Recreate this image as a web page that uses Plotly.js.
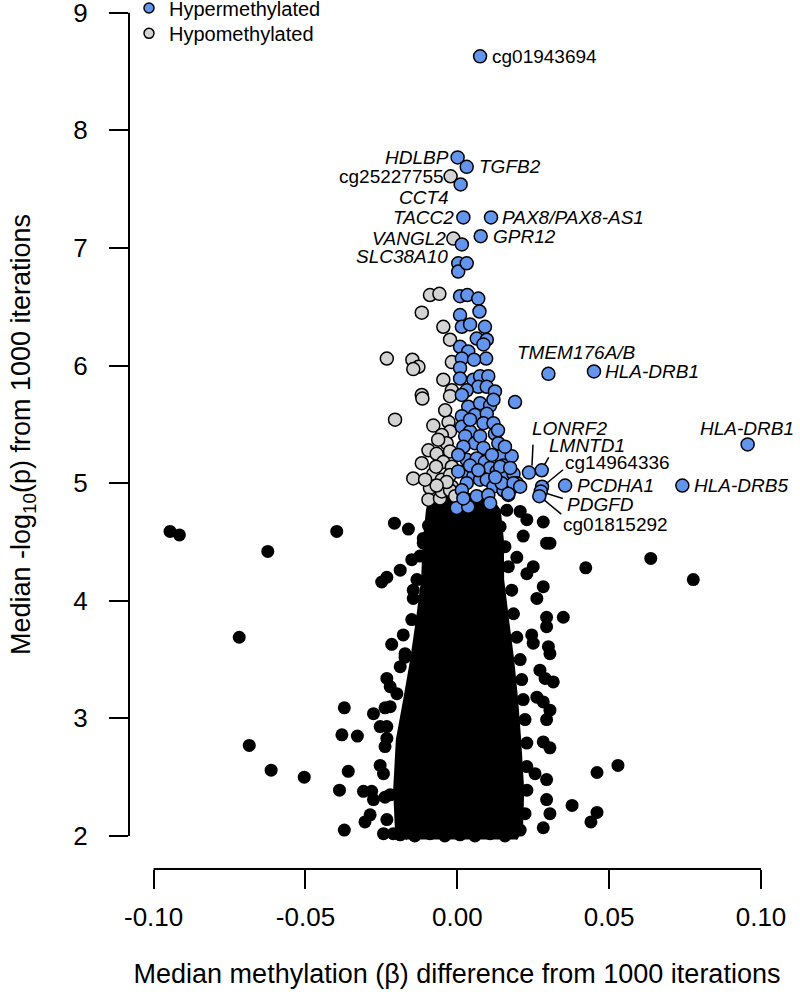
<!DOCTYPE html>
<html>
<head>
<meta charset="utf-8">
<script src="https://cdn.plot.ly/plotly-3.0.1.min.js"></script>
<style>html,body{margin:0;padding:0;background:#fff;}#chart{width:800px;height:995px;}</style>
</head>
<body>
<div id="chart"></div>
<script>
// ---------------- DATA ----------------
// x: median methylation (beta) difference; y: median -log10(p)
// Dense core of non-significant CpGs (outline of the solid black mass)
const coreX = [-0.0166,-0.0202,-0.0208,-0.0199,-0.0175,-0.0152,-0.0133,-0.0116,-0.0110,-0.0100,-0.0090,0.0009,0.0110,0.0140,0.0150,0.0151,0.0167,0.0184,0.0197,0.0207,0.0217,0.0213,0.0194];
const coreY = [1.97,2.05,2.39,2.82,3.16,3.50,3.84,4.18,4.52,4.77,4.88,4.92,4.88,4.77,4.52,4.18,3.84,3.50,3.16,2.82,2.39,2.05,1.97];

// Points forming the bumpy rim of the dense core
const rimX = [-0.0112,-0.0123,-0.0133,-0.0145,-0.0150,-0.0172,-0.0188,-0.0199,-0.0221,-0.0232,-0.0238,-0.0243,-0.0238,-0.0232,-0.0211,
  0.0141,0.0157,0.0168,0.0179,0.0185,0.0196,0.0207,0.0212,0.0217,0.0223,0.0229,0.0229,0.0229,0.0223,0.0207,
  -0.0188,-0.0140,-0.0090,-0.0041,0.0009,0.0058,0.0108,0.0157];
const rimY = [4.53,4.38,4.18,4.09,3.84,3.55,3.44,3.21,3.10,2.93,2.76,2.53,2.33,2.14,2.02,
  4.63,4.46,4.29,4.09,3.89,3.69,3.50,3.33,3.16,2.99,2.79,2.59,2.39,2.19,2.05,
  2.01,2.00,2.02,2.00,2.01,2.00,2.02,2.00];

// Scattered non-significant CpGs outside the core
const otherX = [-0.0946,-0.0915,-0.0397,-0.0624,-0.0207,-0.0161,-0.0095,-0.0112,-0.0150,-0.0188,-0.0232,-0.0249,-0.0145,-0.0718,-0.0178,-0.0216,-0.0172,-0.0232,-0.0221,-0.0372,-0.0276,-0.0238,-0.0254,-0.0380,-0.0329,-0.0232,-0.0685,-0.0613,-0.0504,-0.0359,-0.0254,-0.0388,-0.0309,-0.0282,-0.0276,-0.0221,-0.0287,-0.0304,-0.0372,-0.0243,
  0.0423,0.0637,0.0777,0.0349,0.0305,0.0163,0.0207,0.0229,0.0283,0.0294,0.0217,0.0196,0.0250,0.0229,0.0283,0.0262,0.0294,0.0294,0.0245,0.0250,0.0300,0.0305,0.0272,0.0289,0.0316,0.0262,0.0283,0.0305,0.0294,0.0283,0.0305,0.0256,0.0294,0.0294,0.0305,0.0283,
  0.0529,0.0460,0.0460,0.0440,0.0378];
const otherY = [4.59,4.56,4.59,4.42,4.66,4.61,4.64,4.49,4.35,4.26,4.20,4.16,4.02,3.69,3.71,3.63,3.52,3.34,3.27,3.09,3.04,3.09,2.93,2.86,2.85,2.83,2.77,2.56,2.50,2.55,2.60,2.39,2.38,2.38,2.31,2.35,2.18,2.12,2.05,2.02,
  4.28,4.36,4.18,3.86,4.49,4.77,4.76,4.69,4.67,4.49,4.55,4.37,4.29,4.23,4.12,4.02,3.86,3.78,3.71,3.64,3.61,3.55,3.41,3.34,3.31,3.18,3.14,3.07,2.99,2.80,2.75,2.53,2.48,2.31,2.19,2.07,
  2.60,2.54,2.20,2.12,2.26];

// Hypomethylated (grey), unlabelled
const hypoX = [-0.0090,-0.0059,-0.0117,-0.0046,-0.0024,-0.0232,-0.0148,-0.0128,-0.0145,-0.0018,-0.0046,-0.0117,-0.0115,-0.0018,-0.0024,-0.0205,-0.0079,-0.0029,-0.0024,-0.0051,-0.0035,-0.0095,-0.0068,-0.0024,-0.0046,-0.0117,-0.0145,-0.0079,-0.0051,-0.0090,-0.0051,-0.0018,-0.0018,-0.0024,-0.0095,-0.0057,-0.0051,-0.0024,-0.0007,-0.0035,-0.0068,
  -0.0070,-0.0106,-0.0040,-0.0063];
const hypoY = [6.60,6.61,6.45,6.33,6.22,6.06,6.05,5.99,5.97,6.03,5.88,5.75,5.72,5.79,5.74,5.54,5.49,5.52,5.44,5.41,5.34,5.28,5.25,5.27,5.18,5.17,5.04,5.08,5.03,4.96,4.91,4.97,5.14,5.07,4.86,4.87,4.93,4.94,4.89,5.01,4.98,
  5.14,5.03,5.62,5.37];

// Hypermethylated (blue), unlabelled
const hyperX = [0.0015,0.0003,0.0003,0.0009,0.0033,0.0069,0.0073,0.0009,0.0015,0.0091,0.0064,0.0097,0.0009,0.0036,0.0015,0.0086,0.0095,0.0009,0.0053,0.0075,0.0102,0.0009,0.0069,0.0097,0.0124,0.0031,0.0015,0.0190,0.0036,0.0075,0.0108,0.0015,0.0058,0.0097,0.0086,0.0119,0.0124,0.0015,0.0042,0.0026,0.0058,0.0075,0.0135,0.0020,0.0086,0.0031,0.0064,0.0091,0.0141,0.0152,0.0179,0.0108,0.0130,0.0026,0.0053,0.0075,0.0097,0.0157,0.0185,0.0196,0.0031,0.0015,0.0119,0.0152,0.0179,
  -0.0002,0.0036,0.0020,0.0064,0.0102,0.0108,0.0168,0.0141,0.0174,0.0146,0.0185,0.0207,0.0168,
  0.0042,0.0069,0.0114,0.0157,0.0042,0.0119,0.0055,0.0042,0.0003,0.0003,0.0125,0.0134];
const hyperY = [7.03,6.87,6.80,6.59,6.60,6.57,6.46,6.43,6.33,6.33,6.23,6.22,6.16,6.12,6.06,6.18,6.06,5.98,5.88,5.91,5.91,5.89,5.82,5.82,5.78,5.79,5.75,5.69,5.65,5.68,5.66,5.57,5.58,5.59,5.51,5.51,5.42,5.48,5.44,5.40,5.34,5.40,5.34,5.31,5.30,5.20,5.21,5.18,5.23,5.15,5.23,5.13,5.10,5.10,5.06,5.03,5.03,5.06,5.08,5.00,5.00,4.94,4.97,4.94,4.96,
  4.79,4.80,4.87,4.89,4.90,4.83,4.90,5.14,5.13,5.00,5.00,4.97,4.91,
  5.15,5.11,5.24,5.31,5.54,5.71,6.05,6.35,5.24,5.10,5.05,5.45];

// Labelled hypermethylated CpGs
const hyperGenes = ["cg01943694","HDLBP","TGFB2","CCT4","TACC2","PAX8/PAX8-AS1","GPR12","SLC38A10","TMEM176A/B","HLA-DRB1","HLA-DRB1","HLA-DRB5","PCDHA1","LONRF2","LMNTD1","cg14964336","PDGFD","cg01815292"];
const hyperGeneX = [0.0075,0.0001,0.0031,0.0011,0.0020,0.0111,0.0077,0.0031,0.0300,0.0450,0.0956,0.0741,0.0355,0.0236,0.0278,0.0279,0.0275,0.0270];
const hyperGeneY = [8.63,7.77,7.69,7.54,7.26,7.26,7.10,6.87,5.93,5.95,5.33,4.98,4.98,5.09,5.11,4.97,4.93,4.89];

// Labelled hypomethylated CpGs
const hypoGenes = ["cg25227755","VANGL2"];
const hypoGeneX = [-0.0022,-0.0013];
const hypoGeneY = [7.61,7.08];

// Axis ticks
const xTickVals = [-0.10,-0.05,0.00,0.05,0.10];
const xTickText = ["-0.10","-0.05","0.00","0.05","0.10"];
const yTickVals = [2,3,4,5,6,7,8,9];
const yTickText = ["2","3","4","5","6","7","8","9"];

// ---------------- STYLE / LAYOUT ----------------
const FONT = "Liberation Sans, Arial, Helvetica, sans-serif";
const BLUE = "#6495ED", GREY = "#D3D3D3";

// label placement (pixel offsets from the point), not data
const labelStyle = {
  "cg01943694":   {anchor:"left",  dx:10,  dy:0,   italic:false},
  "HDLBP":        {anchor:"right", dx:-7,  dy:0,   italic:true},
  "TGFB2":        {anchor:"left",  dx:10,  dy:0,   italic:true},
  "CCT4":         {anchor:"right", dx:-10, dy:-13, italic:true},
  "TACC2":        {anchor:"right", dx:-7,  dy:0,   italic:true},
  "PAX8/PAX8-AS1":{anchor:"left",  dx:9,   dy:0,   italic:true},
  "GPR12":        {anchor:"left",  dx:10,  dy:0,   italic:true},
  "SLC38A10":     {anchor:"right", dx:-17, dy:7,   italic:true},
  "TMEM176A/B":   {anchor:"center",dx:28,  dy:21,  italic:true},
  "HLA-DRB1#9":   {anchor:"left",  dx:9,   dy:0,   italic:true},
  "HLA-DRB1#10":  {anchor:"center",dx:-1,  dy:16,  italic:true},
  "HLA-DRB5":     {anchor:"left",  dx:10,  dy:0,   italic:true},
  "PCDHA1":       {anchor:"left",  dx:10,  dy:0,   italic:true},
  "LONRF2":       {anchor:"center",dx:41,  dy:44,  italic:true},
  "LMNTD1":       {anchor:"center",dx:45,  dy:25,  italic:true},
  "cg14964336":   {anchor:"left",  dx:21,  dy:24,  italic:false},
  "PDGFD":        {anchor:"left",  dx:24,  dy:-13, italic:true},
  "cg01815292":   {anchor:"left",  dx:22,  dy:-28, italic:false},
  "cg25227755":   {anchor:"right", dx:-5,  dy:0,   italic:false},
  "VANGL2":       {anchor:"right", dx:-5,  dy:0,   italic:true}
};
// leader lines: pixel offsets [dx0,dy0,dx1,dy1] relative to the labelled point (y up)
const leaderStyle = {
  "LONRF2":     [3, 7, 4, 28],
  "LMNTD1":     [3, 6, 7, 13],
  "cg14964336": [4, 3, 21, 17],
  "PDGFD":      [6, -2, 22, -7],
  "cg01815292": [5, -4, 22, -18]
};

const traces = [];
// dense core
traces.push({type:"scatter", mode:"lines", x:coreX, y:coreY, fill:"toself", fillcolor:"#000",
  line:{color:"#000", width:2}, hoverinfo:"skip", showlegend:false});
// rim + other black points
traces.push({type:"scatter", mode:"markers", x:rimX.concat(otherX), y:rimY.concat(otherY),
  marker:{color:"#000", size:13, line:{width:0}}, showlegend:false});
// grey
traces.push({type:"scatter", mode:"markers", x:hypoX.concat(hypoGeneX), y:hypoY.concat(hypoGeneY),
  marker:{color:GREY, size:13, line:{color:"#000", width:1.5}}, showlegend:false});
// blue
traces.push({type:"scatter", mode:"markers", x:hyperX.concat(hyperGeneX), y:hyperY.concat(hyperGeneY),
  marker:{color:BLUE, size:13, line:{color:"#000", width:1.5}}, showlegend:false});
// legend entries (one legend box each, to control spacing)
traces.push({type:"scatter", mode:"markers", x:[null], y:[null], name:"Hypermethylated", legend:"legend",
  marker:{color:BLUE, size:10, line:{color:"#000", width:1.5}}, showlegend:true});
traces.push({type:"scatter", mode:"markers", x:[null], y:[null], name:"Hypomethylated", legend:"legend2",
  marker:{color:GREY, size:10, line:{color:"#000", width:1.5}}, showlegend:true});

const annotations = [];
const shapes = [];
function addLabel(name, key, x, y){
  const st = labelStyle[key] || labelStyle[name];
  annotations.push({x:x, y:y, xref:"x", yref:"y", text: st.italic ? "<i>"+name+"</i>" : name,
    showarrow:false, xanchor:st.anchor, yanchor:"middle", xshift:st.dx, yshift:st.dy,
    font:{family:FONT, size:19, color:"#000"}});
  const ld = leaderStyle[name];
  if (ld) {
    shapes.push({type:"line", xref:"x", yref:"y", xsizemode:"pixel", ysizemode:"pixel",
      xanchor:x, yanchor:y, x0:ld[0], y0:ld[1], x1:ld[2], y1:ld[3], line:{color:"#000", width:1.5}});
  }
}
hyperGenes.forEach((g,i)=>{
  const key = (g==="HLA-DRB1") ? g+"#"+i : g;
  addLabel(g, key, hyperGeneX[i], hyperGeneY[i]);
});
hypoGenes.forEach((g,i)=> addLabel(g, g, hypoGeneX[i], hypoGeneY[i]));

// detached axis lines spanning first..last tick
shapes.push({type:"line", xref:"x", yref:"paper", x0:xTickVals[0], x1:xTickVals[xTickVals.length-1], y0:0, y1:0, line:{color:"#000", width:2}});
shapes.push({type:"line", xref:"paper", yref:"y", x0:0, x1:0, y0:yTickVals[0], y1:yTickVals[yTickVals.length-1], line:{color:"#000", width:2}});

const legendBase = {x:0, xanchor:"left", yanchor:"top", bgcolor:"rgba(0,0,0,0)", borderwidth:0,
  font:{family:FONT, size:20, color:"#000"}};

const layout = {
  width:800, height:995,
  margin:{l:129, r:15, t:0, b:126, autoexpand:false},
  paper_bgcolor:"#fff", plot_bgcolor:"#fff",
  font:{family:FONT, color:"#000"},
  showlegend:true,
  legend: Object.assign({}, legendBase, {y:1.0133}),
  legend2: Object.assign({}, legendBase, {y:0.9841}),
  xaxis:{range:[-0.1081, 0.1079], showgrid:false, zeroline:false, showline:false,
    tickmode:"array", tickvals:xTickVals, ticktext:xTickText,
    ticks:"outside", ticklen:19, tickwidth:2, tickcolor:"#000", ticklabelstandoff:6,
    ticklabeloverflow:"allow",
    tickfont:{family:FONT, size:26, color:"#000"},
    title:{text:"Median methylation (β) difference from 1000 iterations", font:{family:FONT, size:27, color:"#000"}, standoff:32}},
  yaxis:{range:[1.7193, 9.1088], showgrid:false, zeroline:false, showline:false,
    tickmode:"array", tickvals:yTickVals, ticktext:yTickText,
    ticks:"outside", ticklen:19, tickwidth:2, tickcolor:"#000", ticklabelstandoff:16,
    ticklabeloverflow:"allow",
    tickfont:{family:FONT, size:26, color:"#000"},
    title:{text:"Median -log<sub>10</sub>(p) from 1000 iterations", font:{family:FONT, size:27, color:"#000"}, standoff:34}},
  annotations:annotations,
  shapes:shapes
};

Plotly.newPlot("chart", traces, layout, {displayModeBar:false, staticPlot:true});
</script>
</body>
</html>
